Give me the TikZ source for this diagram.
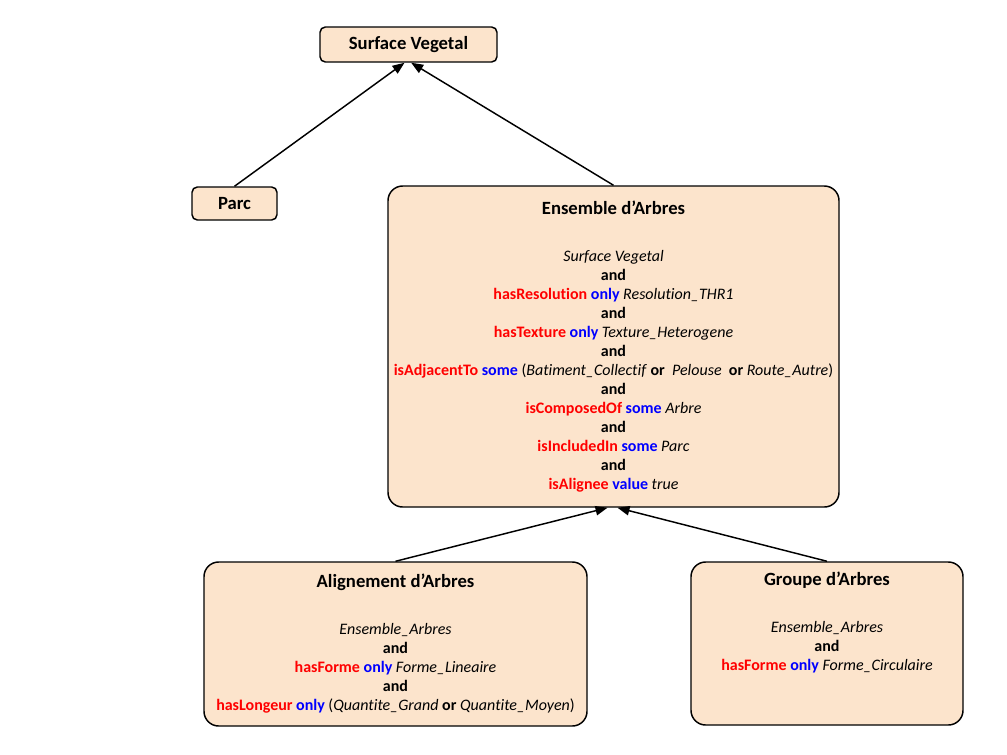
\documentclass[tikz,border=0pt]{standalone}
\usepackage{fontspec}
\setmainfont[Ligatures={NoCommon}]{Carlito}
\usetikzlibrary{arrows.meta}

\definecolor{boxfill}{HTML}{FCE4CC}
\newcommand{\rel}[1]{\textcolor{red}{\textbf{#1}}}
\newcommand{\qnt}[1]{\textcolor{blue}{\textbf{#1}}}
\newcommand{\cls}[1]{\textit{#1}}
\newcommand{\band}{\textbf{and}}
\newcommand{\ttl}[1]{{\fontsize{14pt}{14.25pt}\selectfont\textbf{#1}}}

\begin{document}
\begin{tikzpicture}[x=0.75pt, y=-0.75pt,
  classbox/.style={draw, line width=1.1pt, fill=boxfill, rounded corners=4pt,
    align=center, inner sep=0pt, font=\fontsize{12pt}{14.25pt}\selectfont},
  defbox/.style={classbox, rounded corners=11pt},
  isa/.style={-{Triangle[length=9pt, width=7pt]}, line width=1.1pt}]
  \useasboundingbox (0,0) rectangle (1007,754);

  \node[classbox, minimum width=132.75pt, minimum height=26.25pt] (sv)
  at (408.5,44.5) {\ttl{Surface Vegetal}};
  \node[classbox, minimum width=63.75pt, minimum height=24.75pt] (parc)
  at (234.5,203.5) {\ttl{Parc}};
  \node[defbox, minimum width=338.25pt, minimum height=240.75pt] (ens)
  at (613.5,346.5)
  {\ttl{Ensemble d’Arbres}\\[21pt]
  \cls{Surface Vegetal}\\ \band\\
  \rel{hasResolution} \qnt{only} \cls{Resolution\_THR1}\\ \band\\
  \rel{hasTexture} \qnt{only} \cls{Texture\_Heterogene}\\ \band\\
  \rel{isAdjacentTo} \qnt{some} (\cls{Batiment\_Collectif} \textbf{or}\ \ \cls{Pelouse}\ \ \textbf{or} \cls{Route\_Autre})\\ \band\\
  \rel{isComposedOf} \qnt{some} \cls{Arbre}\\ \band\\
  \rel{isIncludedIn} \qnt{some} \cls{Parc}\\ \band\\
  \rel{isAlignee} \qnt{value} \cls{true}};
  \node[defbox, minimum width=287.25pt, minimum height=123pt] (al)
  at (395.5,644)
  {\ttl{Alignement d’Arbres}\\[21pt]
  \cls{Ensemble\_Arbres}\\ \band\\
  \rel{hasForme} \qnt{only} \cls{Forme\_Lineaire}\\ \band\\
  \rel{hasLongeur} \qnt{only} (\cls{Quantite\_Grand} \textbf{or} \cls{Quantite\_Moyen})};
  \node[defbox, minimum width=204pt, minimum height=122.25pt] (gr)
  at (827,643.5)
  {\ttl{Groupe d’Arbres}\\[21pt]
  \cls{Ensemble\_Arbres}\\ \band\\
  \rel{hasForme} \qnt{only} \cls{Forme\_Circulaire}\\ \strut\\ \strut};

  \draw[isa] (parc.north) -- ([xshift=-3pt]sv.south);
  \draw[isa] (ens.north)  -- ([xshift=2pt]sv.south);
  \draw[isa] (al.north)   -- ([xshift=-4.5pt]ens.south);
  \draw[isa] (gr.north)   -- ([xshift=3pt]ens.south);
\end{tikzpicture}
\end{document}
